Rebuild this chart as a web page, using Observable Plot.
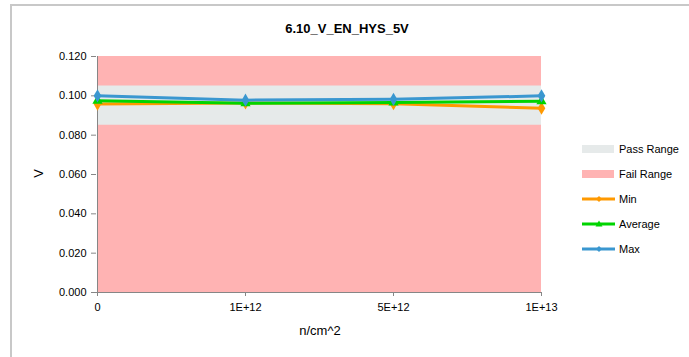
<!DOCTYPE html>
<html><head><meta charset="utf-8">
<script src="https://cdn.jsdelivr.net/npm/d3@7"></script>
<script src="https://cdn.jsdelivr.net/npm/@observablehq/plot@0.6"></script>
<style>
body{margin:0;width:689px;height:357px;position:relative;background:#fff;font-family:"Liberation Sans",Arial,sans-serif;overflow:hidden}
#frame{position:absolute;left:10px;top:4px;width:700px;height:400px;border-top:2px solid #c8c8c8;border-left:2px solid #c8c8c8;box-sizing:border-box}
#title{position:absolute;left:8px;width:678px;top:21px;text-align:center;font-weight:bold;font-size:13px;color:#000}
#chart{position:absolute;left:0;top:0}
#ylab{position:absolute;left:34px;top:166px;font-size:13px;transform:rotate(-90deg);transform-origin:center}
#xlab{position:absolute;left:0;width:640px;top:323px;text-align:center;font-size:13px}
#legend{position:absolute;left:582px;top:136px;font-size:11px;color:#000}
.row{height:25px;display:flex;align-items:center;margin:0}
.row svg{margin-right:3px}
</style></head>
<body>
<div id="frame"></div>
<div id="chart"></div>
<div id="title">6.10_V_EN_HYS_5V</div>
<div id="ylab">V</div>
<div id="xlab">n/cm^2</div>
<div id="legend"></div>
<script>
const categories = ["0", "1E+12", "5E+12", "1E+13"];
const minVals = [0.0958, 0.0964, 0.0960, 0.0937];
const avgVals = [0.0975, 0.0962, 0.0966, 0.0972];
const maxVals = [0.1000, 0.0978, 0.0982, 0.1000];
const passLow = 0.085, passHigh = 0.105;
const failLow = 0, failHigh = 0.12;
const yTicks = [0, 0.02, 0.04, 0.06, 0.08, 0.10, 0.12];

const colors = {pass:"#e6eaea", fail:"#ffb3b3", min:"#ff9900", avg:"#00d400", max:"#3a97d0"};

const rows = categories.map((c,i)=>({cat:c, min:minVals[i], avg:avgVals[i], max:maxVals[i]}));
const fmt = d3.format(".3f");

const chart = Plot.plot({
  width: 689, height: 357,
  marginLeft: 96, marginRight: 147, marginTop: 56, marginBottom: 65,
  style: {fontFamily: '"Liberation Sans",Arial,sans-serif', fontSize: "11px", color:"#000", background:"transparent"},
  x: {type:"point", domain: categories, padding: 0, label: null},
  y: {domain:[0, 0.12], label: null},
  marks: [
    Plot.areaY(rows, {x:"cat", y1: ()=>failLow, y2: ()=>failHigh, fill: colors.fail}),
    Plot.areaY(rows, {x:"cat", y1: ()=>passLow, y2: ()=>passHigh, fill: colors.pass}),
    Plot.axisY({ticks: yTicks, tickFormat: fmt, tickSize: 5, tickPadding: 5, stroke:"#868686", label:null, fontSize: 11}),
    Plot.axisX({tickSize: 4, tickPadding: 7, stroke:"#868686", label:null, fontSize: 11}),
    Plot.ruleX([categories[0]], {stroke:"#868686"}),
    Plot.ruleY([0], {stroke:"#868686"}),
    Plot.lineY(rows, {x:"cat", y:"min", stroke: colors.min, strokeWidth: 3}),
    Plot.dot(rows, {x:"cat", y:"min", fill: colors.min, symbol:"diamond", r: 4}),
    Plot.lineY(rows, {x:"cat", y:"avg", stroke: colors.avg, strokeWidth: 3}),
    Plot.dot(rows, {x:"cat", y:"avg", fill: colors.avg, symbol:"triangle", r: 3.8}),
    Plot.lineY(rows, {x:"cat", y:"max", stroke: colors.max, strokeWidth: 3}),
    Plot.dot(rows, {x:"cat", y:"max", fill: colors.max, symbol:"diamond", r: 4})
  ]
});
document.getElementById("chart").appendChild(chart);

const legendItems = [
  {label:"Pass Range", type:"rect", color: colors.pass},
  {label:"Fail Range", type:"rect", color: colors.fail},
  {label:"Min", type:"line", color: colors.min, sym:"diamond"},
  {label:"Average", type:"line", color: colors.avg, sym:"triangle"},
  {label:"Max", type:"line", color: colors.max, sym:"diamond"}
];
const leg = document.getElementById("legend");
for (const it of legendItems) {
  const row = document.createElement("div"); row.className = "row";
  let sw;
  if (it.type === "rect") {
    sw = `<svg width="34" height="10"><rect x="0" y="1" width="32" height="8" fill="${it.color}"/></svg>`;
  } else {
    const m = it.sym === "diamond"
      ? `<path d="M17,2 L20,5 L17,8 L14,5Z" fill="${it.color}"/>`
      : `<path d="M17,1.5 L20.5,7.5 L13.5,7.5Z" fill="${it.color}"/>`;
    sw = `<svg width="34" height="10"><line x1="0" y1="5" x2="33" y2="5" stroke="${it.color}" stroke-width="3"/>${m}</svg>`;
  }
  row.innerHTML = sw + `<span>${it.label}</span>`;
  leg.appendChild(row);
}
</script>
</body></html>
